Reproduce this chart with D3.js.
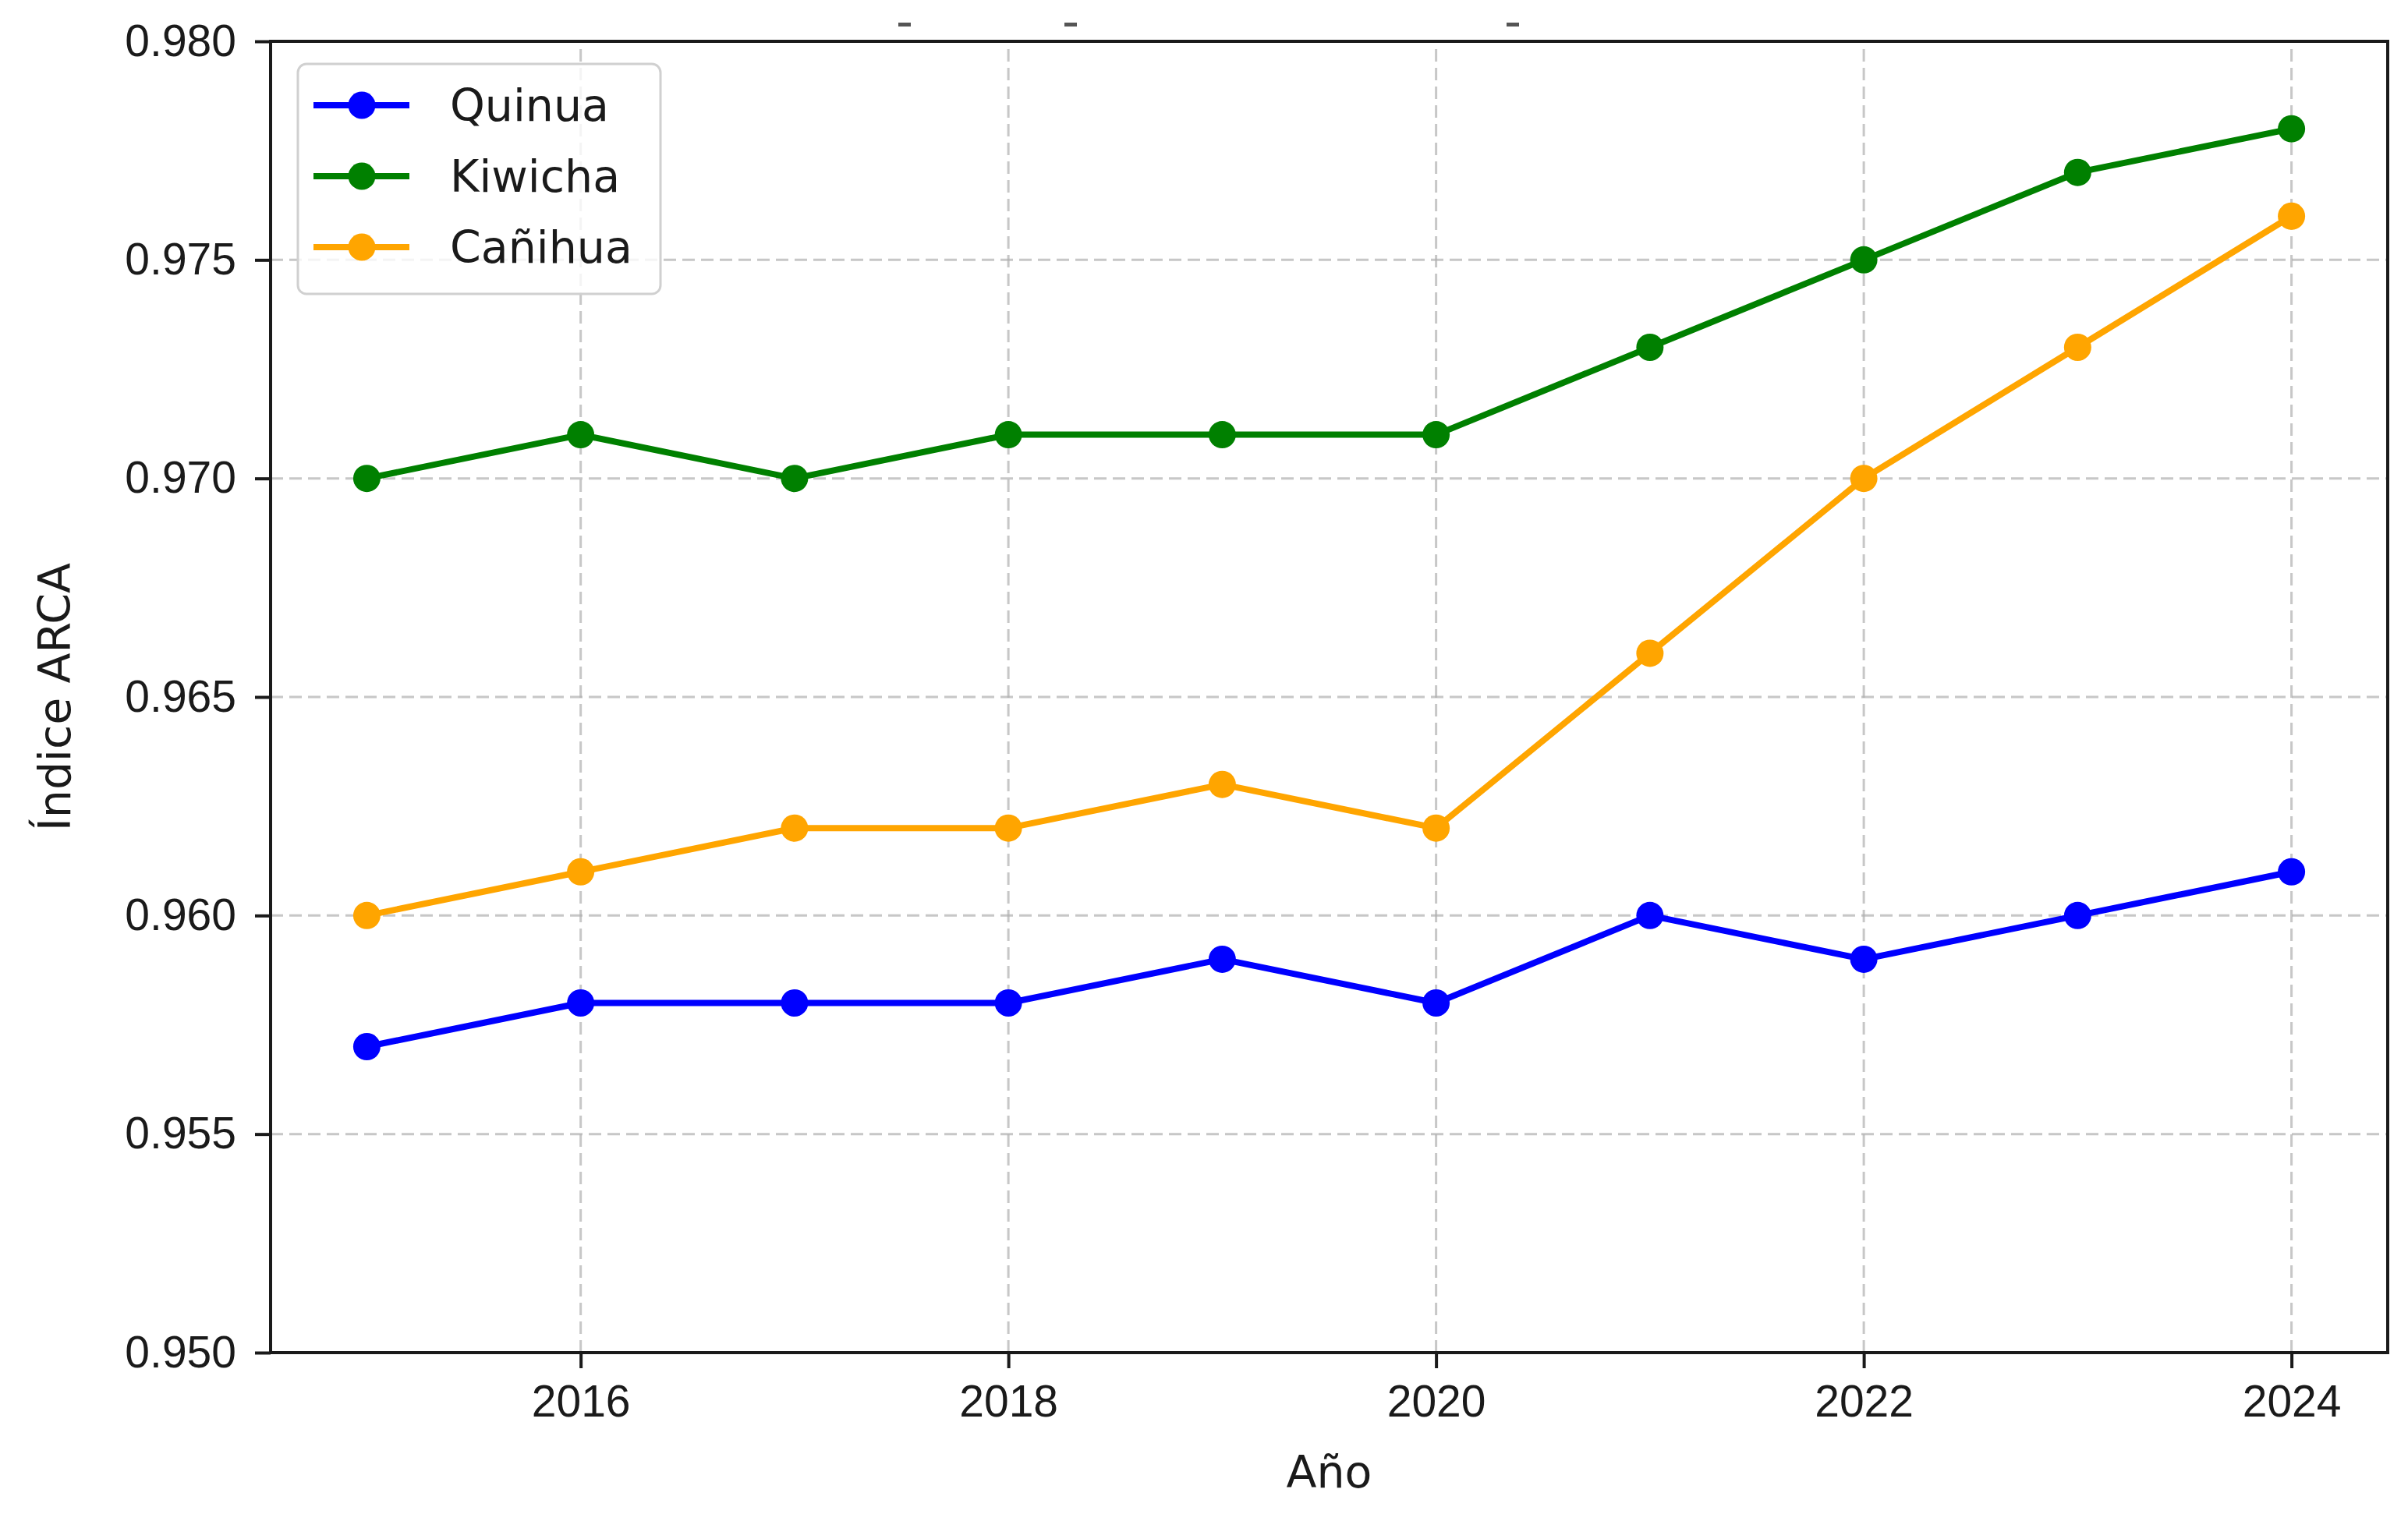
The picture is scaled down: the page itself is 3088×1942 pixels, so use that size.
<!DOCTYPE html>
<html>
<head>
<meta charset="utf-8">
<script src="https://cdn.jsdelivr.net/npm/d3@7"></script>
<style>
  body { margin: 0; background: #fff; }
  svg { display: block; font-family: "DejaVu Sans", sans-serif; }
  .axis text { font-size: 57px; fill: #1a1a1a; }
  .axis line { stroke: #1a1a1a; stroke-width: 4; }
  .grid-lines line { stroke: #b0b0b0; stroke-width: 3; stroke-dasharray: 16 8; opacity: 0.7; }
  .axis-label { font-size: 57px; fill: #1a1a1a; }
  .legend text { font-size: 57px; fill: #1a1a1a; dominant-baseline: central; }
</style>
</head>
<body>
<div class="mainview"></div>
<script>

// data ///////////////////////////////////////

const years = [2015, 2016, 2017, 2018, 2019, 2020, 2021, 2022, 2023, 2024];
const quinua  = [0.957, 0.958, 0.958, 0.958, 0.959, 0.958, 0.960, 0.959, 0.960, 0.961];
const kiwicha = [0.970, 0.971, 0.970, 0.971, 0.971, 0.971, 0.973, 0.975, 0.977, 0.978];
const canihua = [0.960, 0.961, 0.962, 0.962, 0.963, 0.962, 0.966, 0.970, 0.973, 0.976];

const seriesNames = ["Quinua", "Kiwicha", "Cañihua"];
const xTicks = [2016, 2018, 2020, 2022, 2024];
const yTicks = [0.950, 0.955, 0.960, 0.965, 0.970, 0.975, 0.980];

const series = [
    { name: seriesNames[0], color: "#0000ff", values: quinua },
    { name: seriesNames[1], color: "#008000", values: kiwicha },
    { name: seriesNames[2], color: "#ffa500", values: canihua }
];

// layout //////////////////////////////////////

const dim = { width: 3088, height: 1942 };
const margin = { top: 53, right: 26, bottom: 207, left: 347 };

const x = d3.scaleLinear()
    .domain([2014.55, 2024.45])
    .range([margin.left, dim.width - margin.right]);

const y = d3.scaleLinear()
    .domain([0.950, 0.980])
    .range([dim.height - margin.bottom, margin.top]);

const svg = d3.select(".mainview").append("svg")
    .attr("width", dim.width)
    .attr("height", dim.height)
    .attr("viewBox", [0, 0, dim.width, dim.height]);

// grid

const grid = svg.append("g").attr("class", "grid-lines");

grid.selectAll("line.gx")
    .data(xTicks)
    .join("line")
    .attr("class", "gx")
    .attr("x1", d => x(d)).attr("x2", d => x(d))
    .attr("y1", y.range()[0]).attr("y2", y.range()[1]);

grid.selectAll("line.gy")
    .data(yTicks)
    .join("line")
    .attr("class", "gy")
    .attr("x1", x.range()[0]).attr("x2", x.range()[1])
    .attr("y1", d => y(d)).attr("y2", d => y(d));

// axes

const xAxis = d3.axisBottom(x)
    .tickValues(xTicks)
    .tickFormat(d3.format("d"))
    .tickSize(20)
    .tickPadding(18);

svg.append("g")
    .attr("class", "axis x")
    .attr("transform", `translate(0, ${ dim.height - margin.bottom })`)
    .call(xAxis)
    .call(g => g.select(".domain").remove())
    .call(g => g.selectAll("text").attr("dy", "0.78em"));

const yAxis = d3.axisLeft(y)
    .tickValues(yTicks)
    .tickFormat(d3.format(".3f"))
    .tickSize(20)
    .tickPadding(24);

svg.append("g")
    .attr("class", "axis y")
    .attr("transform", `translate(${ margin.left }, 0)`)
    .call(yAxis)
    .call(g => g.select(".domain").remove());

// lines and markers

const line = d3.line()
    .x((d, i) => x(years[i]))
    .y(d => y(d));

const plot = svg.append("g");

series.forEach(s => {
    plot.append("path")
        .attr("d", line(s.values))
        .attr("fill", "none")
        .attr("stroke", s.color)
        .attr("stroke-width", 8)
        .attr("stroke-linejoin", "round");

    plot.append("g")
        .selectAll("circle")
        .data(s.values)
        .join("circle")
        .attr("cx", (d, i) => x(years[i]))
        .attr("cy", d => y(d))
        .attr("r", 17.5)
        .attr("fill", s.color);
});

// frame

svg.append("rect")
    .attr("x", margin.left).attr("y", margin.top)
    .attr("width", dim.width - margin.left - margin.right)
    .attr("height", dim.height - margin.top - margin.bottom)
    .attr("fill", "none")
    .attr("stroke", "#1a1a1a")
    .attr("stroke-width", 4);

// axis labels

svg.append("text")
    .attr("class", "axis-label")
    .attr("x", (x.range()[0] + x.range()[1]) / 2)
    .attr("y", 1908)
    .attr("text-anchor", "middle")
    .text("Año");

svg.append("text")
    .attr("class", "axis-label")
    .attr("transform", `translate(90, ${ (y.range()[0] + y.range()[1]) / 2 }) rotate(-90)`)
    .attr("text-anchor", "middle")
    .text("Índice ARCA");

// legend

const legend = svg.append("g")
    .attr("class", "legend")
    .attr("transform", "translate(382, 82)");

legend.append("rect")
    .attr("width", 465).attr("height", 295)
    .attr("rx", 11)
    .attr("fill", "#fff").attr("fill-opacity", 0.8)
    .attr("stroke", "#d0d0d0").attr("stroke-width", 3);

const item = legend.selectAll("g.item")
    .data(series)
    .join("g")
    .attr("class", "item")
    .attr("transform", (d, i) => `translate(0, ${ 53 + i * 91 })`);

item.append("line")
    .attr("x1", 20).attr("x2", 143)
    .attr("stroke", d => d.color)
    .attr("stroke-width", 8);

item.append("circle")
    .attr("cx", 82).attr("r", 17.5)
    .attr("fill", d => d.color);

item.append("text")
    .attr("x", 195)
    .text(d => d.name);

// remnants of a clipped title above the frame
svg.append("g")
    .selectAll("rect")
    .data([1160, 1373, 1940])
    .join("rect")
    .attr("x", d => d - 8).attr("y", 29)
    .attr("width", 16).attr("height", 5)
    .attr("fill", "#555");

</script>
</body>
</html>
